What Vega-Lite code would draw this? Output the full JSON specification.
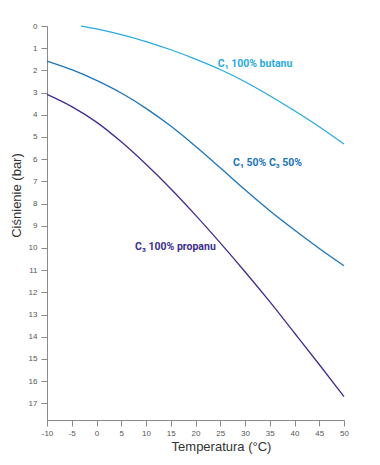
{
  "$schema": "https://vega.github.io/schema/vega-lite/v6.json",
  "width": 297,
  "height": 394,
  "autosize": {"type": "none"},
  "padding": {"left": 47, "top": 26, "right": 36, "bottom": 45},
  "background": "white",
  "config": {"view": {"stroke": null}},
  "datasets": {
    "curves": [
      {"series": "butan", "T": -3.1, "P": 0},
      {"series": "butan", "T": 0, "P": 0.13},
      {"series": "butan", "T": 5, "P": 0.39},
      {"series": "butan", "T": 10, "P": 0.7},
      {"series": "butan", "T": 15, "P": 1.07},
      {"series": "butan", "T": 20, "P": 1.49},
      {"series": "butan", "T": 25, "P": 1.96},
      {"series": "butan", "T": 30, "P": 2.51},
      {"series": "butan", "T": 35, "P": 3.14},
      {"series": "butan", "T": 40, "P": 3.82},
      {"series": "butan", "T": 45, "P": 4.54},
      {"series": "butan", "T": 50, "P": 5.32},
      {"series": "mix", "T": -10, "P": 1.58},
      {"series": "mix", "T": -5, "P": 1.97},
      {"series": "mix", "T": 0, "P": 2.45},
      {"series": "mix", "T": 5, "P": 3.02},
      {"series": "mix", "T": 10, "P": 3.71},
      {"series": "mix", "T": 15, "P": 4.51},
      {"series": "mix", "T": 20, "P": 5.42},
      {"series": "mix", "T": 25, "P": 6.39},
      {"series": "mix", "T": 30, "P": 7.38},
      {"series": "mix", "T": 35, "P": 8.32},
      {"series": "mix", "T": 40, "P": 9.19},
      {"series": "mix", "T": 45, "P": 10.02},
      {"series": "mix", "T": 50, "P": 10.8},
      {"series": "propan", "T": -10, "P": 3.08},
      {"series": "propan", "T": -5, "P": 3.63},
      {"series": "propan", "T": 0, "P": 4.33},
      {"series": "propan", "T": 5, "P": 5.22},
      {"series": "propan", "T": 10, "P": 6.23},
      {"series": "propan", "T": 15, "P": 7.33},
      {"series": "propan", "T": 20, "P": 8.52},
      {"series": "propan", "T": 25, "P": 9.77},
      {"series": "propan", "T": 30, "P": 11.07},
      {"series": "propan", "T": 35, "P": 12.42},
      {"series": "propan", "T": 40, "P": 13.83},
      {"series": "propan", "T": 45, "P": 15.25},
      {"series": "propan", "T": 50, "P": 16.7}
    ],
    "labels": [
      {"series": "butan", "T": 24.5, "P": 1.71, "text": "C₁ 100% butanu"},
      {"series": "mix", "T": 27.6, "P": 6.16, "text": "C₁ 50% C₃ 50%"},
      {"series": "propan", "T": 7.8, "P": 9.94, "text": "C₃ 100% propanu"}
    ]
  },
  "encoding": {
    "x": {
      "field": "T", "type": "quantitative",
      "scale": {"domain": [-10, 50], "nice": false, "zero": false},
      "axis": {
        "title": "Temperatura (°C)",
        "values": [-10, -5, 0, 5, 10, 15, 20, 25, 30, 35, 40, 45, 50],
        "labelExpr": "replace(datum.label, '−', '-')",
        "labelOverlap": false,
        "labelFlush": false,
        "grid": false,
        "domainColor": "#8a8a8a",
        "tickColor": "#8a8a8a",
        "tickSize": 6,
        "labelFont": "Liberation Sans",
        "labelFontSize": 8,
        "labelColor": "#555555",
        "labelPadding": 3,
        "titleFont": "Liberation Sans",
        "titleFontSize": 13,
        "titleFontWeight": "normal",
        "titleColor": "#333333",
        "titleX": 174,
        "titleY": 26,
        "titleAlign": "center",
        "titleBaseline": "middle"
      }
    },
    "y": {
      "field": "P", "type": "quantitative",
      "scale": {"domain": [0, 17.75], "nice": false, "reverse": true},
      "axis": {
        "title": "Ciśnienie (bar)",
        "values": [0, 1, 2, 3, 4, 5, 6, 7, 8, 9, 10, 11, 12, 13, 14, 15, 16, 17],
        "labelOverlap": false,
        "labelFlush": false,
        "grid": false,
        "domainColor": "#8a8a8a",
        "tickColor": "#8a8a8a",
        "tickSize": 6,
        "labelFont": "Liberation Sans",
        "labelFontSize": 8,
        "labelColor": "#555555",
        "labelPadding": 4,
        "titleFont": "Liberation Sans",
        "titleFontSize": 13,
        "titleFontWeight": "normal",
        "titleColor": "#333333",
        "titleAngle": 270,
        "titleX": -31,
        "titleY": 169,
        "titleAlign": "center",
        "titleBaseline": "middle"
      }
    },
    "color": {
      "field": "series", "type": "nominal",
      "scale": {"domain": ["butan", "mix", "propan"], "range": ["#29abe2", "#1b75bc", "#3b2f8f"]},
      "legend": null
    }
  },
  "layer": [
    {
      "data": {"name": "curves"},
      "mark": {"type": "line", "interpolate": "monotone", "strokeWidth": 1.3}
    },
    {
      "data": {"name": "labels"},
      "mark": {"type": "text", "align": "left", "baseline": "middle", "font": "Roboto", "fontWeight": "bold", "fontSize": 10.5},
      "encoding": {
        "text": {"field": "text"}
      }
    }
  ]
}
